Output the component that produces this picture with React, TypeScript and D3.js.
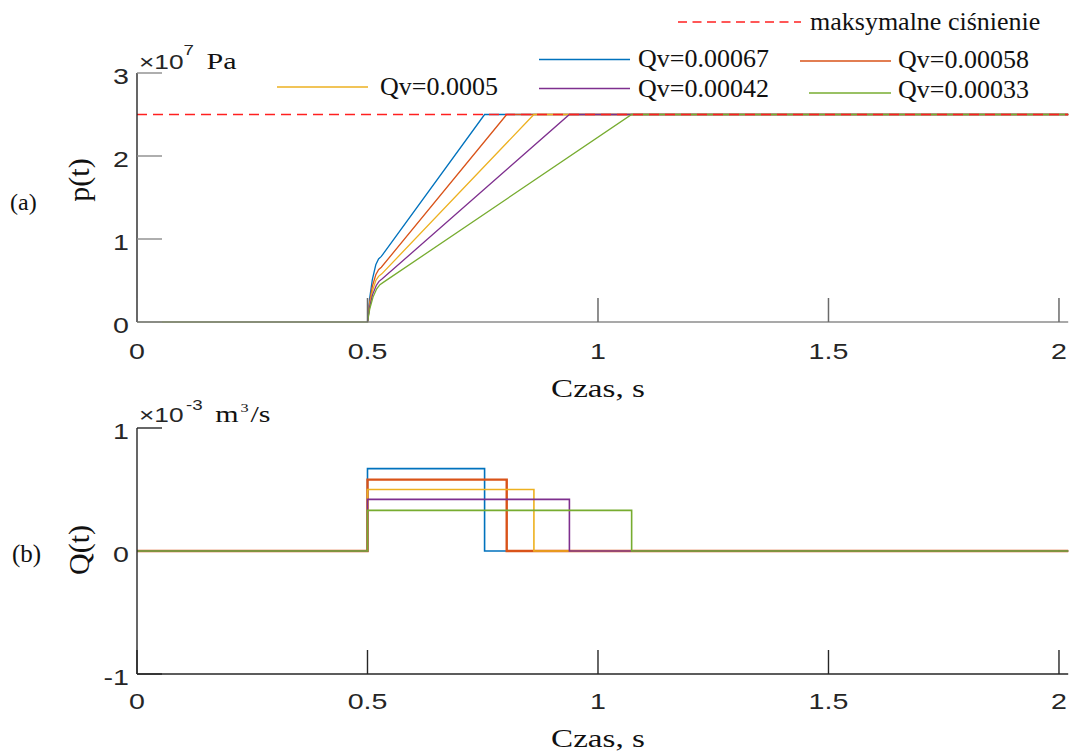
import React from 'react';
import * as d3 from 'd3';

// ---------- data ----------
const seriesNames = ['Qv=0.00067', 'Qv=0.00058', 'Qv=0.0005', 'Qv=0.00042', 'Qv=0.00033'];
const seriesColors = ['#0072BD', '#D95319', '#EDB120', '#7E2F8E', '#77AC30'];
// flow rate in 1e-3 m^3/s
const qvValues = [0.67, 0.58, 0.5, 0.42, 0.33];
const stepStart = 0.5;
const stepEnd = [0.754, 0.802, 0.861, 0.938, 1.073];
const tMax = 2.02;

// pressure p(t) in 1e7 Pa
const pTime0067 = [0, 0.5, 0.5045, 0.5105, 0.518, 0.524, 0.53, 0.754, 2.02];
const pVal0067 = [0, 0, 0.28, 0.51, 0.69, 0.76, 0.79, 2.5, 2.5];
const pTime0058 = [0, 0.5, 0.5045, 0.5105, 0.518, 0.524, 0.53, 0.802, 2.02];
const pVal0058 = [0, 0, 0.23, 0.43, 0.57, 0.63, 0.66, 2.5, 2.5];
const pTime0050 = [0, 0.5, 0.5045, 0.5105, 0.518, 0.524, 0.531, 0.861, 2.02];
const pVal0050 = [0, 0, 0.2, 0.37, 0.5, 0.55, 0.58, 2.5, 2.5];
const pTime0042 = [0, 0.5, 0.5045, 0.511, 0.519, 0.525, 0.532, 0.938, 2.02];
const pVal0042 = [0, 0, 0.18, 0.33, 0.44, 0.49, 0.52, 2.5, 2.5];
const pTime0033 = [0, 0.5, 0.505, 0.512, 0.52, 0.527, 0.535, 1.073, 2.02];
const pVal0033 = [0, 0, 0.16, 0.3, 0.4, 0.45, 0.48, 2.5, 2.5];

const pTimes = [pTime0067, pTime0058, pTime0050, pTime0042, pTime0033];
const pValues = [pVal0067, pVal0058, pVal0050, pVal0042, pVal0033];

const maxPressure = 2.5;
const maxPressureLabel = 'maksymalne ciśnienie';

const xTicks = [0, 0.5, 1, 1.5, 2];
const xTickLabels = ['0', '0.5', '1', '1.5', '2'];
const pTicks = [0, 1, 2, 3];
const pTickLabels = ['0', '1', '2', '3'];
const qTicks = [-1, 0, 1];
const qTickLabels = ['-1', '0', '1'];

// ---------- styles ----------
const SANS = '"Liberation Sans", Arial, Helvetica, sans-serif';
const SERIF = '"Liberation Serif", "Times New Roman", serif';
const SX = 1.3; // horizontal stretch of the figure's own texts

type STProps = { x: number; y: number; size: number; family: string; anchor?: string; s?: number; fill?: string; children?: React.ReactNode };
const ST = ({ x, y, size, family, anchor = 'start', s = SX, fill = '#262626', children }: STProps) => (
  <text transform={`translate(${x},${y}) scale(${s},1)`} textAnchor={anchor as any} fontSize={size} fontFamily={family} fill={fill}>
    {children}
  </text>
);

export default function App() {
  const W = 1070, H = 751;
  const x = d3.scaleLinear().domain([0, tMax]).range([137, 1068.2]);
  const yP = d3.scaleLinear().domain([0, 3]).range([322, 73]);
  const yQ = d3.scaleLinear().domain([-1, 1]).range([674, 428]);

  const lineP = d3.line<[number, number]>().x(d => x(d[0])).y(d => yP(d[1]));
  const lineQ = d3.line<[number, number]>().x(d => x(d[0])).y(d => yQ(d[1]));

  const pPaths = pTimes.map((ts, i) => lineP(ts.map((t, j) => [t, pValues[i][j]] as [number, number])) as string);
  const qPaths = qvValues.map((q, i) =>
    lineQ([
      [0, 0], [stepStart, 0], [stepStart, q], [stepEnd[i], q], [stepEnd[i], 0], [tMax, 0],
    ]) as string
  );

  const xL = x(0), xR = x(tMax);

  // legend layout
  const legend = [
    { i: 0, x1: 539, x2: 630, ly: 59.5, tx: 638, ty: 67 },
    { i: 1, x1: 800, x2: 891, ly: 61, tx: 898, ty: 68 },
    { i: 2, x1: 277, x2: 368, ly: 87, tx: 380, ty: 95 },
    { i: 3, x1: 539, x2: 630, ly: 88.5, tx: 638, ty: 97 },
    { i: 4, x1: 809, x2: 891, ly: 93, tx: 898, ty: 98 },
  ];

  return (
    <svg width={W} height={H} style={{ position: 'absolute', left: 0, top: 0, background: '#fff' }}>
      <rect x={0} y={0} width={W} height={H} fill="#fff" />

      {/* ===== top plot (a) ===== */}
      {pPaths.map((d, i) => (
        <path key={i} d={d} fill="none" stroke={seriesColors[i]} strokeWidth={1.3} />
      ))}
      <line x1={xL} x2={xR} y1={yP(maxPressure)} y2={yP(maxPressure)} stroke="#ff2020" strokeWidth={1.4} strokeDasharray="10,6" />

      {/* axes */}
      <line x1={xL} x2={xR} y1={yP(0)} y2={yP(0)} stroke="#8c8c8c" strokeWidth={1.5} />
      <line x1={xL} x2={xL} y1={yP(3)} y2={yP(0)} stroke="#262626" strokeWidth={1.4} />
      {pTicks.map(t => (
        <line key={t} x1={xL} x2={xL + 25} y1={yP(t)} y2={yP(t)} stroke="#8c8c8c" strokeWidth={1.4} />
      ))}
      {xTicks.map(t => (
        <line key={t} x1={x(t)} x2={x(t)} y1={yP(0)} y2={yP(0) - 24} stroke="#6a6a6a" strokeWidth={1.5} />
      ))}
      {pTicks.map((t, i) => (
        <ST key={t} x={129} y={yP(t) + 10.5} size={22} family={SANS} anchor="end">{pTickLabels[i]}</ST>
      ))}
      {xTicks.map((t, i) => (
        <ST key={t} x={x(t)} y={359} size={22} family={SANS} anchor="middle">{xTickLabels[i]}</ST>
      ))}
      <ST x={598} y={396.5} size={25.5} family={SERIF} anchor="middle" fill="#111">Czas, s</ST>
      <ST x={139} y={69} size={21} family={SANS} s={1.25}>
        ×10<tspan fontSize={15} dy={-14}>7</tspan>
        <tspan dy={14} dx={10} fontFamily={SERIF} fontSize={24} fill="#111">Pa</tspan>
      </ST>
      <text transform={`translate(89,180) rotate(-90)`} textAnchor="middle" fontSize={30} fontFamily={SERIF} fill="#111">p(t)</text>
      <text x={10} y={210} fontSize={24} fontFamily={SERIF} fill="#111">(a)</text>

      {/* legend */}
      <line x1={678} x2={801} y1={22} y2={22} stroke="#ff2020" strokeWidth={1.4} strokeDasharray="9,5.5" />
      <text x={810} y={30} fontSize={26} fontFamily={SERIF} fill="#111">{maxPressureLabel}</text>
      {legend.map(l => (
        <g key={l.i}>
          <line x1={l.x1} x2={l.x2} y1={l.ly} y2={l.ly} stroke={seriesColors[l.i]} strokeWidth={1.6} />
          <text x={l.tx} y={l.ty} fontSize={26} fontFamily={SERIF} fill="#111">{seriesNames[l.i]}</text>
        </g>
      ))}

      {/* ===== bottom plot (b) ===== */}
      {qPaths.map((d, i) => (
        <path key={i} d={d} fill="none" stroke={seriesColors[i]} strokeWidth={i === 1 ? 2.4 : 1.6} />
      ))}
      <line x1={xL} x2={xR} y1={yQ(-1)} y2={yQ(-1)} stroke="#262626" strokeWidth={1.4} />
      <line x1={xL} x2={xL} y1={yQ(1)} y2={yQ(-1)} stroke="#262626" strokeWidth={1.4} />
      {qTicks.filter(t => t !== 0).map(t => (
        <line key={t} x1={xL} x2={xL + 25} y1={yQ(t)} y2={yQ(t)} stroke="#262626" strokeWidth={1.4} />
      ))}
      {xTicks.map(t => (
        <line key={t} x1={x(t)} x2={x(t)} y1={yQ(-1)} y2={yQ(-1) - 24} stroke="#262626" strokeWidth={1.4} />
      ))}
      {qTicks.map((t, i) => (
        <ST key={t} x={129} y={yQ(t) + 11} size={22} family={SANS} anchor="end">{qTickLabels[i]}</ST>
      ))}
      {xTicks.map((t, i) => (
        <ST key={t} x={x(t)} y={709} size={22} family={SANS} anchor="middle">{xTickLabels[i]}</ST>
      ))}
      <ST x={598} y={746.5} size={25.5} family={SERIF} anchor="middle" fill="#111">Czas, s</ST>
      <ST x={139} y={422} size={21} family={SANS} s={1.25}>
        ×10<tspan fontSize={15} dx={2} dy={-12}>-3</tspan>
        <tspan dy={12} dx={10} fontFamily={SERIF} fontSize={24} fill="#111">m</tspan>
        <tspan dy={-10} dx={1.5} fontFamily={SERIF} fontSize={13} fill="#111">3</tspan>
        <tspan dy={10} dx={1.5} fontFamily={SERIF} fontSize={24} fill="#111">/s</tspan>
      </ST>
      <text transform={`translate(89,550) rotate(-90)`} textAnchor="middle" fontSize={30} fontFamily={SERIF} fill="#111">Q(t)</text>
      <text x={12} y={562} fontSize={25} fontFamily={SERIF} fill="#111">(b)</text>
    </svg>
  );
}
